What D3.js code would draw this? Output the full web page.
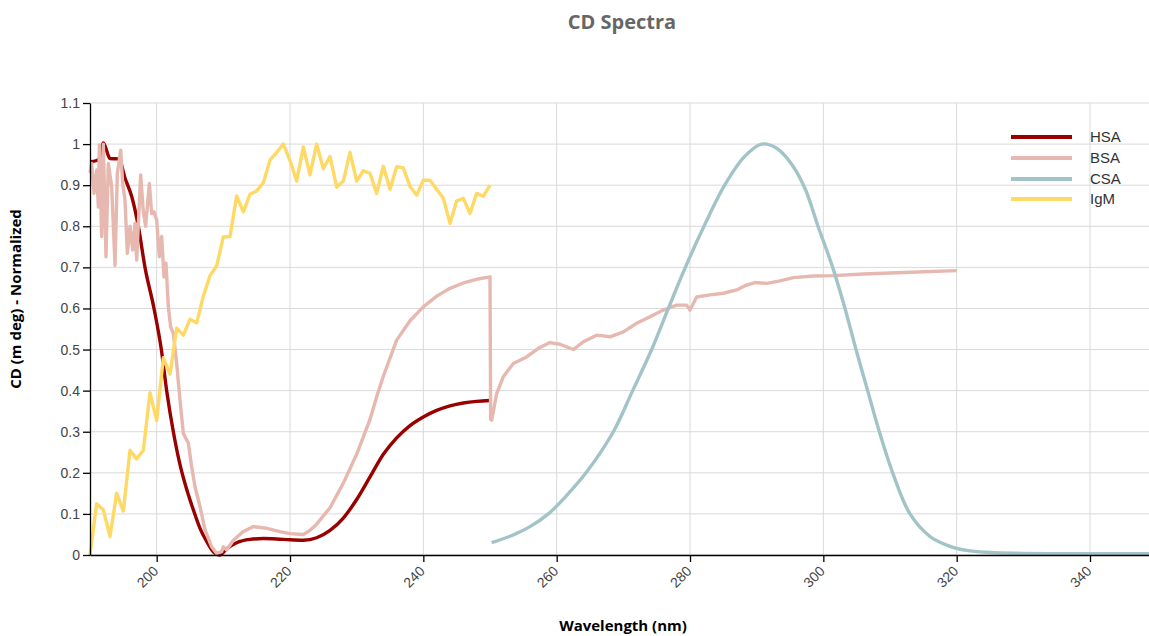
<!DOCTYPE html>
<html>
<head>
<meta charset="utf-8">
<script src="https://cdn.jsdelivr.net/npm/d3@7"></script>
<style>
  body { margin: 0; background: #fff; }
  .tick text { font-family: "Liberation Sans", Arial, sans-serif; font-size: 14px; fill: #444; }
  .grid line { stroke: #d9d9d9; stroke-width: 1; }
</style>
</head>
<body>
<svg id="chart" width="1149" height="636"></svg>
<script>
// series: wavelength (nm) and normalized CD
var hsaNm  = [190, 191, 191.5, 192, 193, 194.3, 195.3, 196.3, 197.25, 198.25, 199.6, 200.7, 201.5, 202.5, 203.5, 204.5, 205.5, 206.5, 207.5, 208.5, 209.5, 210.5, 212, 214, 216, 218, 220, 222, 224, 226, 228, 230, 232, 234, 236, 238, 240, 242, 244, 246, 248, 250];
var hsaVal = [0.957, 0.96, 0.965, 1.003, 0.965, 0.964, 0.915, 0.87, 0.8, 0.7, 0.6, 0.5, 0.4, 0.3, 0.22, 0.16, 0.11, 0.065, 0.033, 0.008, 0.0, 0.015, 0.03, 0.038, 0.04, 0.039, 0.037, 0.036, 0.042, 0.06, 0.09, 0.135, 0.19, 0.245, 0.285, 0.315, 0.336, 0.352, 0.363, 0.37, 0.374, 0.376];

var bsaNm  = [190, 190.25, 190.6, 191, 191.25, 191.4, 191.75, 192, 192.4, 192.75, 193.25, 193.75, 194.1, 194.6, 194.9, 195.25, 195.6, 196, 196.4, 196.75, 197, 197.6, 198, 198.35, 198.9, 199.25, 199.6, 200, 200.4, 200.75, 201.1, 201.4, 201.75, 202.1, 202.5, 203, 203.5, 204, 204.75, 205.25, 205.75, 206.5, 207.25, 208.25, 209, 209.75, 210, 210.5, 211.5, 213, 214.5, 216.5, 218.5, 220, 222, 223, 224, 226, 228, 230, 232, 233, 234, 236, 238, 240, 242, 244, 246, 248, 250, 250.1, 250.25, 251, 252, 253.5, 255.5, 257.25, 259, 260.5, 262.5, 264, 266, 268, 270, 272, 274, 276, 278, 279.5, 280, 281, 283, 285, 287, 288.5, 289.75, 291.5, 293.5, 295.5, 298.5, 301.5, 306, 311, 320];
var bsaVal = [0.93, 0.953, 0.88, 0.937, 0.847, 0.998, 0.775, 1.0, 0.726, 0.953, 0.896, 0.705, 0.929, 0.985, 0.904, 0.864, 0.734, 0.8, 0.742, 0.807, 0.718, 0.925, 0.835, 0.8, 0.904, 0.831, 0.835, 0.815, 0.726, 0.775, 0.677, 0.71, 0.604, 0.555, 0.539, 0.466, 0.377, 0.296, 0.272, 0.215, 0.166, 0.118, 0.061, 0.02, 0.004, 0.008, 0.02, 0.012, 0.036, 0.057, 0.069, 0.065, 0.057, 0.052, 0.05, 0.06, 0.075, 0.115, 0.175, 0.245, 0.33, 0.385, 0.435, 0.523, 0.57, 0.604, 0.63, 0.649, 0.662, 0.671, 0.677, 0.33, 0.328, 0.393, 0.434, 0.466, 0.482, 0.503, 0.517, 0.513, 0.5, 0.519, 0.535, 0.531, 0.543, 0.564, 0.58, 0.596, 0.608, 0.608, 0.596, 0.628, 0.633, 0.637, 0.645, 0.657, 0.663, 0.661, 0.667, 0.675, 0.679, 0.68, 0.684, 0.687, 0.692];

var csaNm  = [250.25, 253.5, 256, 258.75, 261.5, 264.4, 268.5, 271.4, 274.25, 276.75, 279.3, 282.1, 285.2, 288.2, 290.75, 293, 295.3, 297.3, 299.2, 301.4, 303.25, 304.9, 306.65, 308.4, 310.4, 313, 316, 318.5, 320.5, 322, 325, 330, 335, 340, 345, 349];
var csaVal = [0.03, 0.049, 0.069, 0.1, 0.145, 0.2, 0.3, 0.4, 0.5, 0.6, 0.7, 0.8, 0.9, 0.97, 1.0, 0.99, 0.95, 0.89, 0.8, 0.7, 0.6, 0.5, 0.4, 0.3, 0.2, 0.1, 0.045, 0.024, 0.014, 0.01, 0.006, 0.004, 0.003, 0.003, 0.003, 0.003];

var igmNm  = [190, 191, 192, 193, 194, 195, 196, 197, 198, 199, 200, 201, 202, 203, 204, 205, 206, 207, 208, 209, 210, 211, 212, 213, 214, 215, 216, 217, 218, 219, 220, 221, 222, 223, 224, 225, 226, 227, 228, 229, 230, 231, 232, 233, 234, 235, 236, 237, 238, 239, 240, 241, 242, 243, 244, 245, 246, 247, 248, 249, 250];
var igmVal = [0, 0.125, 0.11, 0.045, 0.15, 0.107, 0.255, 0.234, 0.255, 0.395, 0.327, 0.48, 0.44, 0.552, 0.535, 0.574, 0.565, 0.63, 0.68, 0.704, 0.774, 0.775, 0.874, 0.835, 0.878, 0.886, 0.906, 0.961, 0.98, 1.0, 0.96, 0.91, 0.993, 0.925, 1.0, 0.94, 0.97, 0.895, 0.91, 0.98, 0.91, 0.935, 0.929, 0.88, 0.946, 0.89, 0.945, 0.942, 0.897, 0.876, 0.912, 0.912, 0.89, 0.868, 0.807, 0.862, 0.868, 0.831, 0.88, 0.873, 0.9];

var seriesNames = ["HSA", "BSA", "CSA", "IgM"];
var xTicks = [200, 220, 240, 260, 280, 300, 320, 340];
var yTicks = [0, 0.1, 0.2, 0.3, 0.4, 0.5, 0.6, 0.7, 0.8, 0.9, 1, 1.1];

var colors = ["#990000", "#e6b8af", "#a2c4c9", "#ffd966"];
var series = [
  {name: seriesNames[0], xs: hsaNm, ys: hsaVal, curve: d3.curveMonotoneX},
  {name: seriesNames[1], xs: bsaNm, ys: bsaVal, curve: d3.curveLinear},
  {name: seriesNames[2], xs: csaNm, ys: csaVal, curve: d3.curveCatmullRom.alpha(0.5)},
  {name: seriesNames[3], xs: igmNm, ys: igmVal, curve: d3.curveLinear}
];

var svg = d3.select("#chart");
var plotLeft = 90, plotTop = 103, plotRight = 1150, plotBottom = 555;

var x = d3.scaleLinear().domain([190, 349]).range([plotLeft, plotRight]);
var y = d3.scaleLinear().domain([0, 1.1]).range([plotBottom, plotTop]);

// grid
var grid = svg.append("g").attr("class", "grid");
grid.selectAll(".h").data(yTicks).enter().append("line")
  .attr("x1", plotLeft).attr("x2", plotRight)
  .attr("y1", d => y(d)).attr("y2", d => y(d));
grid.selectAll(".v").data(xTicks).enter().append("line")
  .attr("x1", d => x(d)).attr("x2", d => x(d))
  .attr("y1", plotTop).attr("y2", plotBottom);

// lines
var line = d3.line().x(d => x(d[0])).y(d => y(d[1]));
series.forEach(function(s, i) {
  svg.append("path")
    .datum(s.xs.map((v, j) => [v, s.ys[j]]))
    .attr("fill", "none")
    .attr("stroke", colors[i])
    .attr("stroke-width", 3.4)
    .attr("stroke-linejoin", "round")
    .attr("d", line.curve(s.curve));
});

// axes
var yAxis = svg.append("g")
  .attr("transform", "translate(" + plotLeft + ",0)")
  .call(d3.axisLeft(y).tickValues(yTicks).tickSize(7).tickSizeOuter(0).tickPadding(3)
    .tickFormat(d => String(+d.toFixed(1))));
var xAxis = svg.append("g")
  .attr("transform", "translate(0," + plotBottom + ")")
  .call(d3.axisBottom(x).tickValues(xTicks).tickSize(7).tickSizeOuter(0));
xAxis.selectAll("text")
  .attr("y", 0).attr("dy", null)
  .attr("text-anchor", "end")
  .attr("transform", "translate(2,17) rotate(-45)");
svg.selectAll(".domain, .tick line").attr("stroke", "#000").attr("stroke-width", 1.3);

// titles
svg.append("text")
  .attr("x", 622).attr("y", 29)
  .attr("text-anchor", "middle")
  .style("font-family", "'Open Sans', sans-serif")
  .style("font-weight", "bold").style("font-size", "20px")
  .style("fill", "#666")
  .text("CD Spectra");

svg.append("text")
  .attr("transform", "translate(21,299) rotate(-90)")
  .attr("text-anchor", "middle")
  .style("font-family", "'Open Sans', sans-serif")
  .style("font-weight", "bold").style("font-size", "15px")
  .style("fill", "#000")
  .text("CD (m deg) - Normalized");

svg.append("text")
  .attr("x", 623).attr("y", 631)
  .attr("text-anchor", "middle")
  .style("font-family", "'Open Sans', sans-serif")
  .style("font-weight", "bold").style("font-size", "15px")
  .style("fill", "#000")
  .text("Wavelength (nm)");

// legend
var legend = svg.append("g");
var legendY = [137, 158, 179, 199];
seriesNames.forEach(function(name, i) {
  legend.append("line")
    .attr("x1", 1011).attr("x2", 1072)
    .attr("y1", legendY[i]).attr("y2", legendY[i])
    .attr("stroke", colors[i]).attr("stroke-width", 4);
  legend.append("text")
    .attr("x", 1090).attr("y", legendY[i] + 5)
    .style("font-family", "'Liberation Sans', Arial, sans-serif")
    .style("font-size", "15px").style("fill", "#333")
    .text(name);
});
</script>
</body>
</html>
